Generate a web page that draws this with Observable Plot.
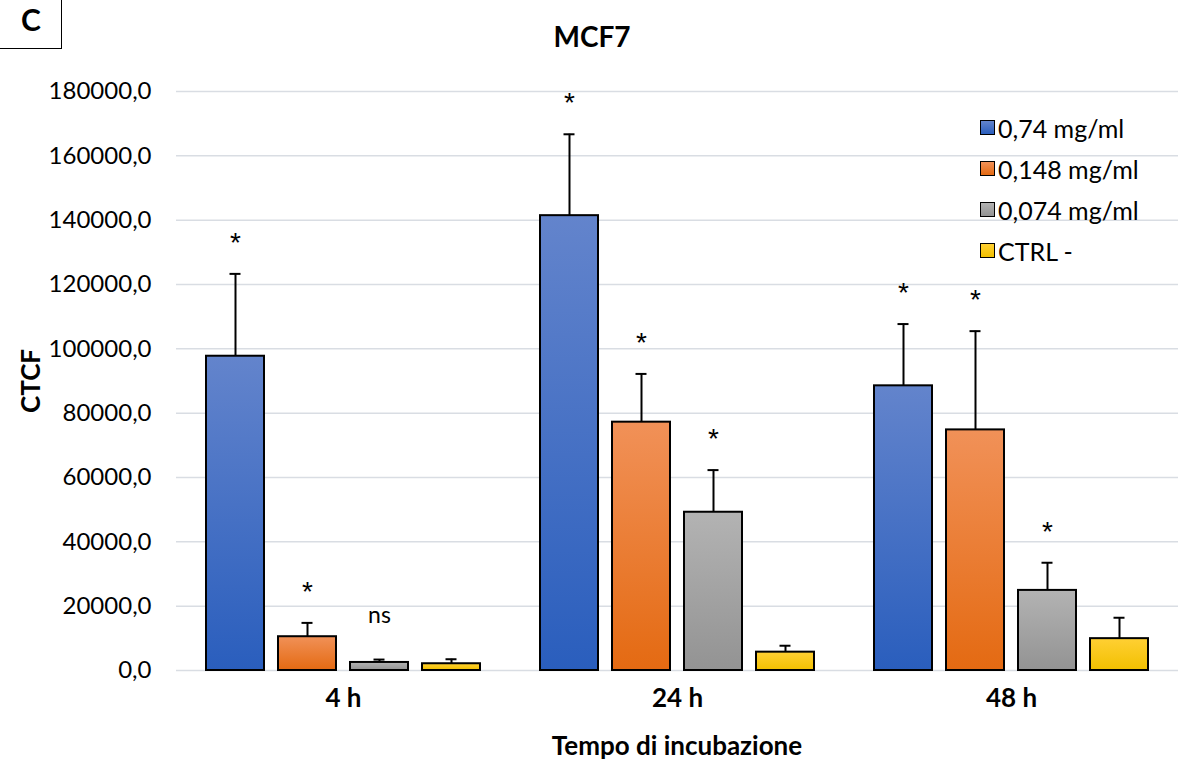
<!DOCTYPE html>
<html>
<head>
<meta charset="utf-8">
<script src="https://cdn.jsdelivr.net/npm/d3@7"></script>
<script src="https://cdn.jsdelivr.net/npm/@observablehq/plot@0.6"></script>
<style>
  html, body { margin: 0; padding: 0; background: #fff; }
  #wrap { position: relative; width: 1178px; height: 762px; font-family: Lato, "Open Sans", sans-serif; color: #000; overflow: hidden; }
  #wrap svg { position: absolute; left: 0; top: 0; }
  .ov { position: absolute; white-space: nowrap; }
  #title { left: 592px; top: 36px; transform: translate(-50%, -50%); font-size: 28px; font-weight: bold; }
  #panel { left: -2px; top: -2px; width: 64px; height: 51px; border: 1.5px solid #000; box-sizing: border-box; }
  #panelC { left: 31px; top: 19px; transform: translate(-50%, -50%); font-size: 30px; font-weight: bold; }
  #ylab { left: 30px; top: 381px; transform: translate(-50%, -50%) rotate(-90deg); font-size: 26px; font-weight: bold; }
  #xlab { left: 677px; top: 745px; transform: translate(-50%, -50%); font-size: 26px; font-weight: bold; }
  #legend { left: 980px; top: 107px; font-size: 25px; }
  .lrow { display: flex; align-items: center; height: 41px; }
  .sw { width: 15px; height: 15px; border: 1.5px solid #000; margin-right: 3px; box-sizing: border-box; }
</style>
</head>
<body>
<div id="wrap">
  <svg width="0" height="0" style="position:absolute">
    <defs>
      <linearGradient id="gBlue" x1="0" y1="0" x2="0" y2="1">
        <stop offset="0" stop-color="#6384cc"/><stop offset="1" stop-color="#2a5ebd"/>
      </linearGradient>
      <linearGradient id="gOrange" x1="0" y1="0" x2="0" y2="1">
        <stop offset="0" stop-color="#f19158"/><stop offset="1" stop-color="#e46a12"/>
      </linearGradient>
      <linearGradient id="gGray" x1="0" y1="0" x2="0" y2="1">
        <stop offset="0" stop-color="#b3b3b3"/><stop offset="1" stop-color="#939393"/>
      </linearGradient>
      <linearGradient id="gYellow" x1="0" y1="0" x2="0" y2="1">
        <stop offset="0" stop-color="#ffd034"/><stop offset="1" stop-color="#f2c000"/>
      </linearGradient>
    </defs>
  </svg>
</div>
<script>
// ---- data ----
const times = ["4 h", "24 h", "48 h"];
const series = ["0,74 mg/ml", "0,148 mg/ml", "0,074 mg/ml", "CTRL -"];
const mean074  = [97700, 141400, 88500];
const mean0148 = [10500, 77200, 74800];
const mean0074 = [2500, 49200, 24900];
const meanCtrl = [2100, 5700, 9900];
const err074   = [25600, 25300, 19200];
const err0148  = [4300, 15000, 30700];
const err0074  = [900, 13100, 8600];
const errCtrl  = [1400, 2000, 6500];
const sig074   = ["*", "*", "*"];
const sig0148  = ["*", "*", "*"];
const sig0074  = ["ns", "*", "*"];
const sigCtrl  = ["", "", ""];
const yTicks = [0, 20000, 40000, 60000, 80000, 100000, 120000, 140000, 160000, 180000];

const seriesFills = ["url(#gBlue)", "url(#gOrange)", "url(#gGray)", "url(#gYellow)"];
const legendCss = [
  "linear-gradient(#6384cc,#2a5ebd)",
  "linear-gradient(#f19158,#e46a12)",
  "linear-gradient(#b3b3b3,#939393)",
  "linear-gradient(#ffd034,#f2c000)"
];

const means = [mean074, mean0148, mean0074, meanCtrl];
const errs = [err074, err0148, err0074, errCtrl];
const sigs = [sig074, sig0148, sig0074, sigCtrl];
const rows = [];
series.forEach((s, si) => times.forEach((t, ti) => {
  rows.push({time: t, series: s, value: means[si][ti], top: means[si][ti] + errs[si][ti], sig: sigs[si][ti]});
}));

const fmt = d => d3.format(".1f")(d).replace(".", ",");

const chart = Plot.plot({
  width: 1178,
  height: 762,
  marginLeft: 175,
  marginRight: 0,
  marginTop: 91,
  marginBottom: 92,
  style: {fontFamily: "Lato, 'Open Sans', sans-serif", background: "transparent"},
  fx: {domain: times, padding: 0, label: null},
  x: {domain: series, paddingInner: 0.19, paddingOuter: 0.39, axis: null},
  y: {domain: [0, 180000]},
  color: {domain: series, range: seriesFills, type: "ordinal"},
  marks: [
    Plot.gridY(yTicks, {stroke: "#d9dde3", strokeOpacity: 1, strokeWidth: 1.5}),
    Plot.axisY(yTicks, {tickSize: 0, tickPadding: 25, fontSize: 24, tickFormat: fmt, label: null}),
    Plot.axisFx({anchor: "bottom", tickSize: 0, tickPadding: 18, fontSize: 26, fontWeight: "bold", label: null}),
    Plot.ruleX(rows, {fx: "time", x: "series", y1: "value", y2: "top", stroke: "#000", strokeWidth: 2}),
    Plot.tickY(rows, {fx: "time", x: "series", y: "top", stroke: "#000", strokeWidth: 2, insetLeft: 23.5, insetRight: 23.5}),
    Plot.barY(rows, {fx: "time", x: "series", y: "value", fill: "series", stroke: "#000", strokeWidth: 2}),
    Plot.text(rows.filter(d => d.sig === "*"), {fx: "time", x: "series", y: "top", text: "sig", fontSize: 28, fontFamily: "'Liberation Sans', Arial, sans-serif", lineAnchor: "bottom", dy: -22}),
    Plot.text(rows.filter(d => d.sig === "ns"), {fx: "time", x: "series", y: "top", text: "sig", fontSize: 23, lineAnchor: "bottom", dy: -37})
  ]
});

const wrap = document.getElementById("wrap");
wrap.appendChild(chart);

function addDiv(id, text) {
  const d = document.createElement("div");
  d.className = "ov"; d.id = id; d.textContent = text;
  wrap.appendChild(d);
  return d;
}
addDiv("panel", "");
addDiv("panelC", "C");
addDiv("title", "MCF7");
addDiv("ylab", "CTCF");
addDiv("xlab", "Tempo di incubazione");
const leg = addDiv("legend", "");
series.forEach((s, i) => {
  const r = document.createElement("div"); r.className = "lrow";
  const sw = document.createElement("div"); sw.className = "sw"; sw.style.background = legendCss[i];
  const tx = document.createElement("span"); tx.textContent = s;
  r.appendChild(sw); r.appendChild(tx); leg.appendChild(r);
});
</script>
</body>
</html>
